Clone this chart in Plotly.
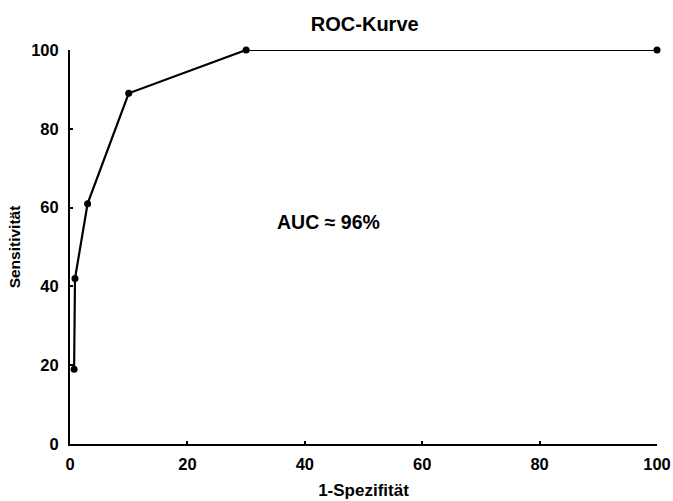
import plotly.graph_objects as go

fpr = [0.7, 0.85, 3, 10, 30, 100]
tpr = [19, 42, 61, 89, 100, 100]
x_ticks = [0, 20, 40, 60, 80, 100]
y_ticks = [0, 20, 40, 60, 80, 100]

fnt = "Liberation Sans, Arial, sans-serif"

fig = go.Figure()
fig.add_trace(go.Scatter(x=fpr, y=tpr, mode="lines+markers",
                         line=dict(color="black", width=2.2),
                         marker=dict(color="black", size=7),
                         cliponaxis=False, showlegend=False))
fig.add_annotation(x=44.0, y=56.3, text="AUC ≈ 96%", showarrow=False,
                   font=dict(family=fnt, size=19.5, color="black", weight="bold"))
fig.update_layout(
    width=673, height=501,
    margin=dict(l=70, r=16, t=50, b=57),
    paper_bgcolor="white", plot_bgcolor="white",
    title=dict(text="ROC-Kurve", x=0.542, xanchor="center", y=0.952, yanchor="middle",
               font=dict(family=fnt, size=20, color="black", weight="bold")),
    xaxis=dict(range=[0, 100], tickvals=x_ticks, showgrid=False, zeroline=False,
               automargin=False,
               showline=True, linecolor="black", linewidth=2,
               ticks="inside", ticklen=3, tickwidth=2, tickcolor="black",
               ticklabelstandoff=4,
               tickfont=dict(family=fnt, size=16.5, color="black", weight="bold"),
               title=dict(text="1-Spezifität", standoff=12,
                          font=dict(family=fnt, size=17, color="black", weight="bold"))),
    yaxis=dict(range=[0, 100], tickvals=y_ticks, showgrid=False, zeroline=False,
               automargin=False,
               showline=True, linecolor="black", linewidth=2,
               ticks="inside", ticklen=3, tickwidth=2, tickcolor="black",
               ticklabelstandoff=6,
               tickfont=dict(family=fnt, size=16.5, color="black", weight="bold"),
               title=dict(text="Sensitivität", standoff=7,
                          font=dict(family=fnt, size=15.5, color="black", weight="bold"))),
)
fig.write_html("out.html", config={"displayModeBar": False},
               post_script="document.body.style.margin='0';document.body.style.overflow='hidden';")
